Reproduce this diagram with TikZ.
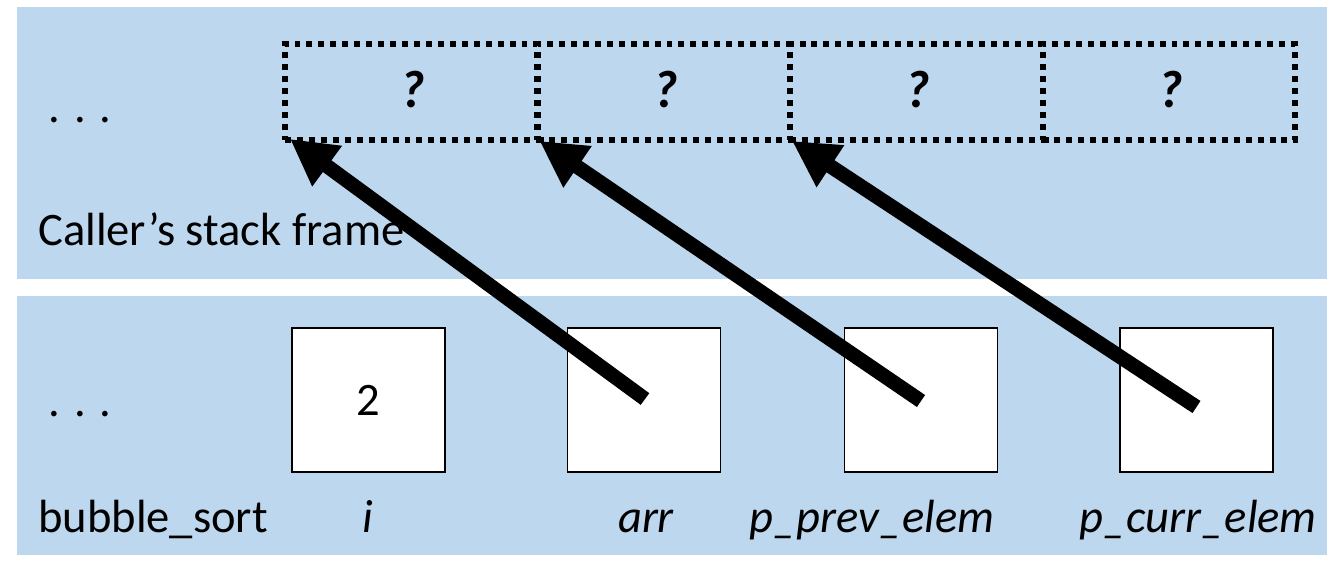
\documentclass[tikz,border=0pt]{standalone}
\usepackage{fontspec}
\setmainfont{Carlito}
\usetikzlibrary{arrows.meta,calc}
\definecolor{panel}{RGB}{189,215,238}
\begin{document}
\begin{tikzpicture}[x=0.02cm,y=-0.02cm,
 varbox/.style={draw=black,fill=white,line width=1.1pt,minimum width=3.06cm,minimum height=2.88cm,inner sep=0pt,font=\fontsize{26.5}{30}\selectfont},
 cellbox/.style={draw=black,line width=3.4pt,dash pattern=on 3.4pt off 3.4pt,minimum width=5.05cm,minimum height=1.92cm,inner sep=0pt},
 txt/.style={font=\fontsize{26.5}{30}\selectfont,inner sep=0pt,anchor=base west},
 lbl/.style={font=\fontsize{26.5}{30}\selectfont\itshape,inner sep=0pt,anchor=base},
 qm/.style={font=\fontsize{30}{34}\selectfont\bfseries\itshape,inner sep=0pt,anchor=base},
 ptr/.style={line width=0.29cm,-{Triangle[length=0.92cm,width=0.94cm]}}]
\useasboundingbox (0,0) rectangle (1327,562);
\fill[panel] (17,7) rectangle (1327,279);
\fill[panel] (17,296) rectangle (1327,555);
% caller cells
\node[cellbox] (c1) at (411.25,92) {};
\node[cellbox] (c2) at (663.75,92) {};
\node[cellbox] (c3) at (916.25,92) {};
\node[cellbox] (c4) at (1168.75,92) {};
\node[qm] (q1) at (413,107) {?};
\node[qm] (q2) at (666,107) {?};
\node[qm] (q3) at (918,107) {?};
\node[qm] (q4) at (1171,107) {?};
% callee variables
\node[varbox] (vi) at (368.5,400) {2};
\node[varbox] (varr) at (644,400) {};
\node[varbox] (vprev) at (921,400) {};
\node[varbox] (vcurr) at (1196.5,400) {};
% texts
\node[txt] (dots1) at (48,122) {. . .};
\node[txt] (caller) at (38,245) {Caller’s stack frame};
\node[txt] (dots2) at (48,416) {. . .};
\node[txt] (fname) at (38,532) {bubble\_sort};
\node[lbl] (li) at (368,532) {i};
\node[lbl] (larr) at (646,532) {arr};
\node[lbl] (lprev) at (872,532) {p\_prev\_elem};
\node[lbl] (lcurr) at (1198,532) {p\_curr\_elem};
% pointers
\coordinate (t1) at ($(varr.center)+(1,-1)$);
\coordinate (t2) at ($(vprev.center)+(0,1)$);
\coordinate (t3) at ($(vcurr.center)+(0,7)$);
\draw[ptr] (t1) -- ($(c1.south west)+(8,-4)$);
\draw[ptr] (t2) -- ($(c2.south west)+(5,-2)$);
\draw[ptr] (t3) -- ($(c3.south west)+(5,-2)$);
\end{tikzpicture}
\end{document}
